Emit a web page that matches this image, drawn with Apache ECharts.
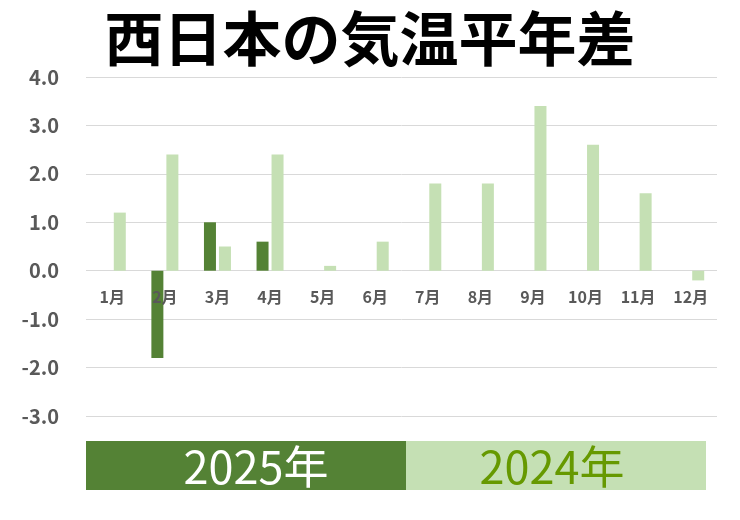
<!DOCTYPE html>
<html lang="ja">
<head>
<meta charset="UTF-8">
<title>西日本の気温平年差</title>
<script src="https://cdn.jsdelivr.net/npm/echarts@6/dist/echarts.min.js"></script>
<style>
html,body{margin:0;padding:0;background:#fff;}
#main{width:740px;height:520px;}
</style>
</head>
<body>
<div id="main"></div>
<script type="text/javascript">
var months = ['1月','2月','3月','4月','5月','6月','7月','8月','9月','10月','11月','12月'];
var v2025 = [null, -1.8, 1.0, 0.6, null, null, null, null, null, null, null, null];
var v2024 = [1.2, 2.4, 0.5, 2.4, 0.1, 0.6, 1.8, 1.8, 3.4, 2.6, 1.6, -0.2];
var yTicks = [-3, -2, -1, 0, 1, 2, 3, 4];

var dark = '#548235';
var light = '#c5e0b4';
var jp = '"Noto Sans CJK JP", "Noto Sans", sans-serif';

var chart = echarts.init(document.getElementById('main'));
var option = {
    animation: false,
    title: {
        text: '西日本の気温平年差',
        left: 'center',
        top: 4,
        textStyle: {
            fontFamily: jp,
            fontSize: 59,
            fontWeight: 'bold',
            color: '#000'
        }
    },
    grid: {
        left: 86,
        right: 23,
        top: 77,
        bottom: 104
    },
    xAxis: {
        type: 'category',
        data: months,
        offset: -145,
        z: 5,
        axisTick: { show: false },
        axisLine: { show: false, onZero: false },
        axisLabel: {
            margin: 18,
            fontFamily: jp,
            fontSize: 16,
            fontWeight: 'bold',
            color: '#595959'
        }
    },
    yAxis: {
        type: 'value',
        min: yTicks[0],
        max: yTicks[yTicks.length - 1],
        interval: 1,
        axisLine: { show: false },
        axisTick: { show: false },
        splitLine: { lineStyle: { color: '#d9d9d9' } },
        axisLabel: {
            margin: 27,
            fontFamily: jp,
            fontSize: 20,
            fontWeight: 'bold',
            color: '#595959',
            formatter: function (v) { return v.toFixed(1); }
        }
    },
    series: [{
        name: '2025年',
        type: 'bar',
        data: v2025,
        barWidth: 12,
        barGap: '25%',
        itemStyle: { color: dark }
    }, {
        name: '2024年',
        type: 'bar',
        data: v2024,
        barWidth: 12,
        itemStyle: { color: light }
    }],
    graphic: [{
        type: 'rect',
        left: 86, top: 441,
        shape: { width: 320, height: 49 },
        style: { fill: dark }
    }, {
        type: 'rect',
        left: 406, top: 441,
        shape: { width: 300, height: 49 },
        style: { fill: light }
    }, {
        type: 'text',
        x: 256, y: 467,
        style: {
            text: '2025年', fill: '#fff',
            font: '45px ' + jp,
            align: 'center', verticalAlign: 'middle'
        }
    }, {
        type: 'text',
        x: 552, y: 467,
        style: {
            text: '2024年', fill: '#669900',
            font: '45px ' + jp,
            align: 'center', verticalAlign: 'middle'
        }
    }]
};
chart.setOption(option);
</script>
</body>
</html>
